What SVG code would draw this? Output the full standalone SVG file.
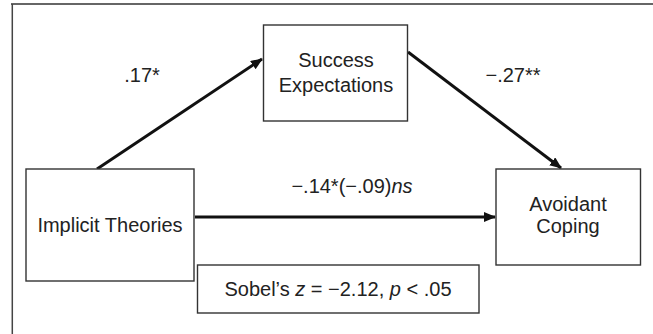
<svg xmlns="http://www.w3.org/2000/svg" width="653" height="334" viewBox="0 0 653 334">
<style>
text{font-family:"Liberation Sans",Arial,sans-serif;font-size:20px;fill:#222;text-anchor:middle}
.box{fill:#fff;stroke:#333;stroke-width:1.4}
.arr{stroke:#111;stroke-width:3;fill:none;marker-end:url(#ah)}
</style>
<defs>
<marker id="ah" viewBox="0 0 12 10" refX="11" refY="5" markerWidth="12" markerHeight="10" markerUnits="userSpaceOnUse" orient="auto">
<path d="M0,0 L12,5 L0,10 Z" fill="#111"/>
</marker>
</defs>
<rect width="653" height="334" fill="#fff"/>
<g id="frame">
<line x1="11" y1="4" x2="653" y2="4" stroke="#666" stroke-width="2"/>
<line x1="12.3" y1="4" x2="12.3" y2="334" stroke="#444" stroke-width="1.5"/>
</g>
<g id="connectors">
<line class="arr" x1="97" y1="169" x2="262" y2="59"/>
<line class="arr" x1="408" y1="52" x2="561" y2="168"/>
<line class="arr" x1="195" y1="217" x2="495" y2="217"/>
<text x="142" y="82">.17*</text>
<text x="513" y="82">−.27**</text>
<text x="352" y="193">−.14*(−.09)<tspan font-style="italic">ns</tspan></text>
</g>
<g id="success">
<rect class="box" x="263.5" y="25" width="144" height="96"/>
<text x="336" y="67">Success</text>
<text x="336" y="92">Expectations</text>
</g>
<g id="implicit">
<rect class="box" x="26" y="169" width="168" height="112"/>
<text x="110" y="232">Implicit Theories</text>
</g>
<g id="avoidant">
<rect class="box" x="496" y="169" width="144.5" height="96"/>
<text x="568" y="211">Avoidant</text>
<text x="568" y="233">Coping</text>
</g>
<g id="sobel">
<rect class="box" x="197.5" y="265" width="281.5" height="48"/>
<text x="338" y="296">Sobel’s <tspan font-style="italic">z</tspan> = −2.12, <tspan font-style="italic">p</tspan> &lt; .05</text>
</g>
</svg>
